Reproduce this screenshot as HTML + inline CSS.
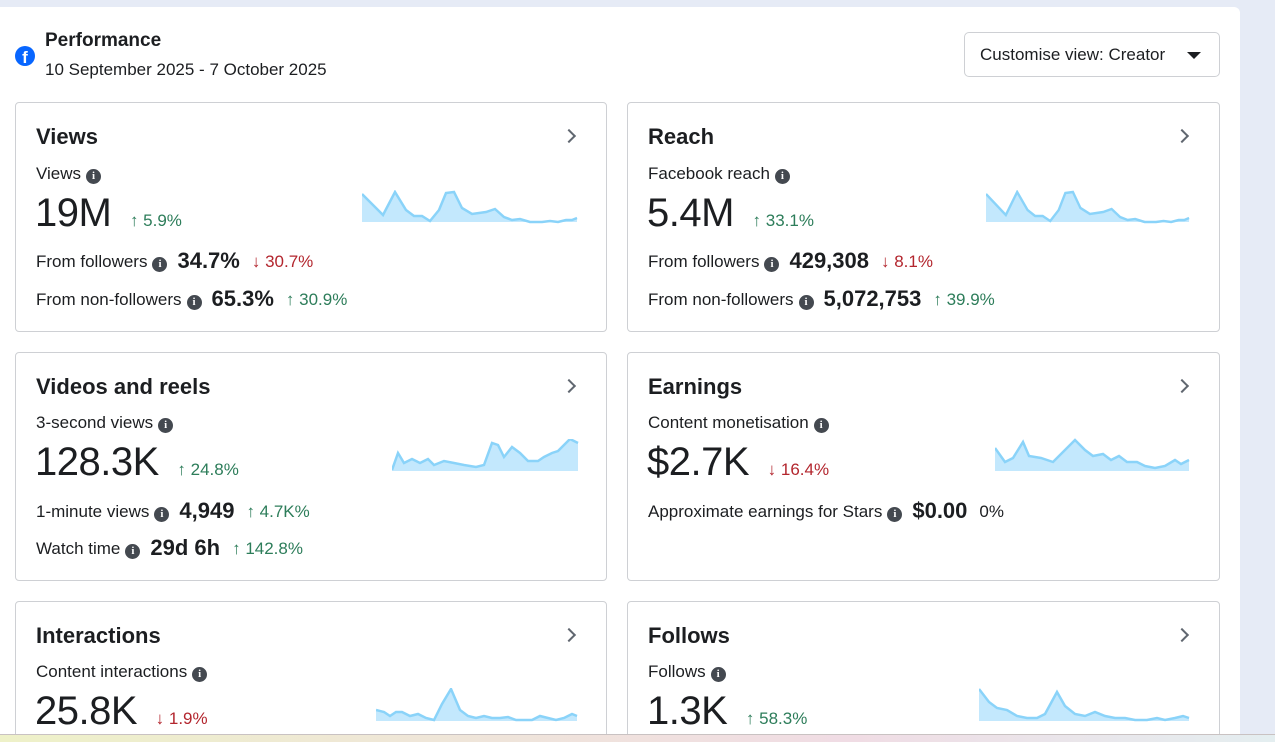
<!DOCTYPE html>
<html style="width:1275px;height:742px;overflow:hidden"><head><meta charset="utf-8"><style>
*{box-sizing:border-box;margin:0;padding:0}
body{width:1275px;height:742px;overflow:hidden;background:#e6ebf6;font-family:"Liberation Sans",sans-serif;color:#1c1e21;position:relative}
.panel{position:absolute;left:0;top:7px;width:1240px;height:727px;background:#fff;border-radius:0 6px 0 0}
.bottom{position:absolute;left:0;top:734px;width:1275px;height:8px;background:linear-gradient(90deg,#eef1c8,#efe6d8,#f0dce4,#e4eef0);border-top:1px solid #c9c2c2;z-index:5}
.card{position:absolute;border:1px solid #ced0d4;border-radius:4px;background:#fff;overflow:hidden}
.t{position:absolute;left:20px;top:21px;font-size:22px;font-weight:bold}
.chev{position:absolute;right:32px;top:28px;width:10px;height:10px;border-right:2px solid #606770;border-top:2px solid #606770;transform:rotate(45deg)}
.lab{position:absolute;left:20px;font-size:17px;color:#1c1e21;white-space:nowrap}
.big{position:absolute;left:19px;font-size:40px;font-weight:300;letter-spacing:-0.5px;white-space:nowrap}
.i{display:inline-block;width:15px;height:15px;border-radius:50%;background:#444950;color:#fff;font-size:11px;font-weight:bold;text-align:center;line-height:15px;vertical-align:0px;margin-left:5px;font-family:"Liberation Serif",serif}
.v{font-size:22px;font-weight:bold;margin:0 12px 0 10px;vertical-align:-1px}
.g{color:#2d7d5a}.r{color:#b3262e}
.ch{font-size:17px;font-weight:400;margin-left:8px;letter-spacing:0}
svg{position:absolute}
</style></head><body>
<div class="panel">
<div style="position:absolute;left:15px;top:39px;width:20px;height:20px;border-radius:50%;background:#0866ff;color:#fff;font-weight:bold;font-size:17px;text-align:center;line-height:23px;overflow:hidden">f</div>
<div style="position:absolute;left:45px;top:23px;font-size:19px;font-weight:bold">Performance</div>
<div style="position:absolute;left:45px;top:53px;font-size:17px">10 September 2025 - 7 October 2025</div>
<div style="position:absolute;left:964px;top:25px;width:256px;height:45px;border:1px solid #ced0d4;border-radius:5px;font-size:17px;padding:12px 0 0 15px">Customise view: Creator<span style="position:absolute;right:18px;top:19px;border-left:7px solid transparent;border-right:7px solid transparent;border-top:7px solid #1c1e21"></span></div>
</div>

<div class="card" style="left:15px;top:102px;width:592px;height:230px">
<div class="t">Views</div><div class="chev"></div>
<div class="lab" style="top:61px">Views<span class="i">i</span></div>
<div class="big" style="top:88px">19M <span class="ch g">↑ 5.9%</span></div>
<div class="lab" style="top:145px">From followers<span class="i">i</span><span class="v">34.7%</span><span class="r">↓ 30.7%</span></div>
<div class="lab" style="top:183px">From non-followers<span class="i">i</span><span class="v">65.3%</span><span class="g">↑ 30.9%</span></div>
<svg style="left:346px;top:87px" width="216" height="34"><polygon fill="#c3e8fd" stroke="none" points="0,32 0,4 21,25 33,2 44,20 52,26 60,26 68,31 77,20 84,3 92,2 100,18 110,24 124,22 133,19 142,27 150,30 158,29 168,32 180,32 188,31 196,32 204,30 210,30 215,28 215,32"/><polyline fill="none" stroke="#8ad3f9" stroke-width="2.5" points="0,4 21,25 33,2 44,20 52,26 60,26 68,31 77,20 84,3 92,2 100,18 110,24 124,22 133,19 142,27 150,30 158,29 168,32 180,32 188,31 196,32 204,30 210,30 215,28"/></svg>
</div>

<div class="card" style="left:627px;top:102px;width:593px;height:230px">
<div class="t">Reach</div><div class="chev"></div>
<div class="lab" style="top:61px">Facebook reach<span class="i">i</span></div>
<div class="big" style="top:88px">5.4M <span class="ch g">↑ 33.1%</span></div>
<div class="lab" style="top:145px">From followers<span class="i">i</span><span class="v">429,308</span><span class="r">↓ 8.1%</span></div>
<div class="lab" style="top:183px">From non-followers<span class="i">i</span><span class="v">5,072,753</span><span class="g">↑ 39.9%</span></div>
<svg style="left:358px;top:87px" width="204" height="34" viewBox="0 0 216 34" preserveAspectRatio="none"><polygon fill="#c3e8fd" points="0,32 0,4 21,25 33,2 44,20 52,26 60,26 68,31 77,20 84,3 92,2 100,18 110,24 124,22 133,19 142,27 150,30 158,29 168,32 180,32 188,31 196,32 204,30 210,30 215,28 215,32"/><polyline fill="none" stroke="#8ad3f9" stroke-width="2.5" points="0,4 21,25 33,2 44,20 52,26 60,26 68,31 77,20 84,3 92,2 100,18 110,24 124,22 133,19 142,27 150,30 158,29 168,32 180,32 188,31 196,32 204,30 210,30 215,28"/></svg>
</div>

<div class="card" style="left:15px;top:352px;width:592px;height:229px">
<div class="t">Videos and reels</div><div class="chev"></div>
<div class="lab" style="top:60px">3-second views<span class="i">i</span></div>
<div class="big" style="top:87px">128.3K <span class="ch g">↑ 24.8%</span></div>
<div class="lab" style="top:145px">1-minute views<span class="i">i</span><span class="v">4,949</span><span class="g">↑ 4.7K%</span></div>
<div class="lab" style="top:182px">Watch time<span class="i">i</span><span class="v">29d 6h</span><span class="g">↑ 142.8%</span></div>
<svg style="left:376px;top:86px" width="187" height="34"><polygon fill="#c3e8fd" points="0,32 0,31 6,14 12,24 20,20 28,24 36,20 42,26 52,22 62,24 72,26 84,28 92,26 100,4 106,6 112,18 120,8 128,14 136,22 146,22 152,18 160,14 166,12 172,6 178,0 186,4 186,32"/><polyline fill="none" stroke="#8ad3f9" stroke-width="2.5" points="0,31 6,14 12,24 20,20 28,24 36,20 42,26 52,22 62,24 72,26 84,28 92,26 100,4 106,6 112,18 120,8 128,14 136,22 146,22 152,18 160,14 166,12 172,6 178,0 186,4"/></svg>
</div>

<div class="card" style="left:627px;top:352px;width:593px;height:229px">
<div class="t">Earnings</div><div class="chev"></div>
<div class="lab" style="top:60px">Content monetisation<span class="i">i</span></div>
<div class="big" style="top:87px">$2.7K <span class="ch r">↓ 16.4%</span></div>
<div class="lab" style="top:145px">Approximate earnings for Stars<span class="i">i</span><span class="v">$0.00</span>0%</div>
<svg style="left:367px;top:85px" width="196" height="35"><polygon fill="#c3e8fd" points="0,33 0,10 10,24 18,20 28,4 34,18 46,20 58,24 70,12 80,2 90,12 98,18 108,16 116,22 124,18 132,24 142,24 150,28 160,30 170,28 180,22 186,26 194,22 194,33"/><polyline fill="none" stroke="#8ad3f9" stroke-width="2.5" points="0,10 10,24 18,20 28,4 34,18 46,20 58,24 70,12 80,2 90,12 98,18 108,16 116,22 124,18 132,24 142,24 150,28 160,30 170,28 180,22 186,26 194,22"/></svg>
</div>

<div class="card" style="left:15px;top:601px;width:592px;height:138px">
<div class="t">Interactions</div><div class="chev"></div>
<div class="lab" style="top:60px">Content interactions<span class="i">i</span></div>
<div class="big" style="top:87px">25.8K <span class="ch r">↓ 1.9%</span></div>
<svg style="left:360px;top:86px" width="203" height="34"><polygon fill="#c3e8fd" points="0,33 0,22 8,24 14,28 20,24 26,24 34,28 42,26 50,30 58,32 66,16 75,1 84,22 92,28 100,30 108,28 116,30 124,30 132,29 140,32 148,32 156,32 164,28 172,30 180,32 188,30 196,26 201,28 201,33"/><polyline fill="none" stroke="#8ad3f9" stroke-width="2.5" points="0,22 8,24 14,28 20,24 26,24 34,28 42,26 50,30 58,32 66,16 75,1 84,22 92,28 100,30 108,28 116,30 124,30 132,29 140,32 148,32 156,32 164,28 172,30 180,32 188,30 196,26 201,28"/></svg>
</div>

<div class="card" style="left:627px;top:601px;width:593px;height:138px">
<div class="t">Follows</div><div class="chev"></div>
<div class="lab" style="top:60px">Follows<span class="i">i</span></div>
<div class="big" style="top:87px">1.3K <span class="ch g">↑ 58.3%</span></div>
<svg style="left:351px;top:86px" width="212" height="34"><polygon fill="#c3e8fd" points="0,33 0,1 10,14 18,20 28,22 38,28 48,30 58,30 66,26 78,4 86,18 96,26 106,28 116,24 126,28 136,30 146,30 156,32 168,32 178,30 186,32 196,30 204,28 210,30 210,33"/><polyline fill="none" stroke="#8ad3f9" stroke-width="2.5" points="0,1 10,14 18,20 28,22 38,28 48,30 58,30 66,26 78,4 86,18 96,26 106,28 116,24 126,28 136,30 146,30 156,32 168,32 178,30 186,32 196,30 204,28 210,30"/></svg>
</div>
<div class="bottom"></div>
</body></html>
